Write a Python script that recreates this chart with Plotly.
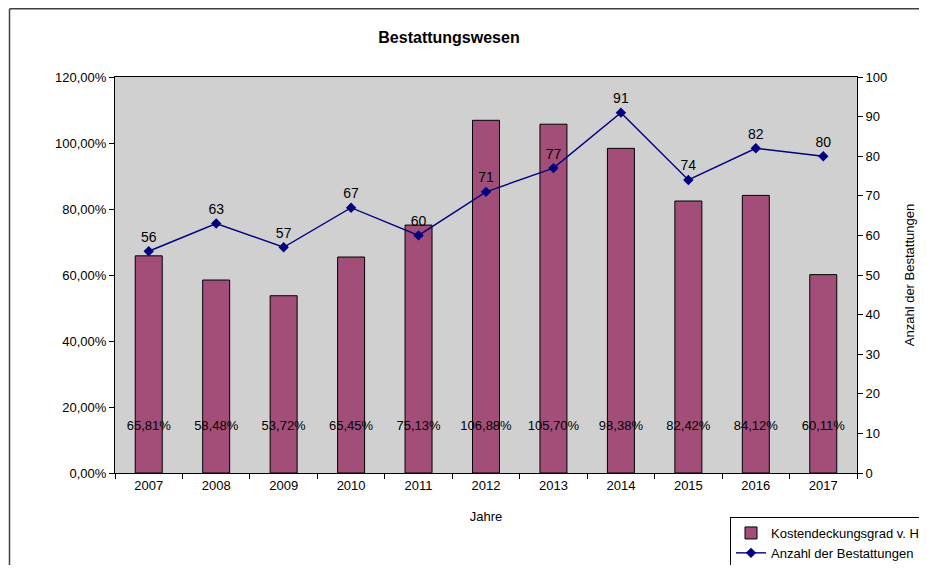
import plotly.graph_objects as go

years = ["2007", "2008", "2009", "2010", "2011", "2012", "2013", "2014", "2015", "2016", "2017"]
kostendeckung = [0.6581, 0.5848, 0.5372, 0.6545, 0.7513, 1.0688, 1.0570, 0.9838, 0.8242, 0.8412, 0.6011]
bestattungen = [56, 63, 57, 67, 60, 71, 77, 91, 74, 82, 80]

FONT = "Liberation Sans, Arial, sans-serif"
OFF = 8  # page body margin
W, H = 927 - 2 * OFF, 573 - 2 * OFF
L, R, T, B = 115 - OFF, 857 - OFF, 77 - OFF, 473 - OFF

def px_x(p):
    return (p - OFF - L) / (R - L)

def px_y(p):
    return (B - (p - OFF)) / (B - T)

fig = go.Figure()

fig.add_trace(go.Bar(
    x=years, y=kostendeckung, name="Kostendeckungsgrad v. H.",
    marker=dict(color="#A34E78", line=dict(color="#000000", width=1)),
    width=0.4, yaxis="y",
))

# bar value labels near the bottom
fig.add_trace(go.Scatter(
    x=years, y=[0.14] * len(years), mode="text",
    text=[f"{v*100:.2f}%".replace(".", ",") for v in kostendeckung],
    textfont=dict(family=FONT, size=13, color="#000000"),
    showlegend=False, hoverinfo="skip", yaxis="y",
))

fig.add_trace(go.Scatter(
    x=years, y=bestattungen, name="Anzahl der Bestattungen",
    mode="lines+markers+text",
    line=dict(color="#000080", width=1.4),
    marker=dict(symbol="diamond", size=8, color="#000080"),
    text=[str(v) for v in bestattungen], textposition="top center",
    textfont=dict(family=FONT, size=14, color="#000000"),
    yaxis="y2",
))

frame_line = dict(color="#404040", width=1.5)

fig.update_layout(
    width=W, height=H,
    separators=",.",
    paper_bgcolor="#FFFFFF", plot_bgcolor="#D0D0D0",
    font=dict(family=FONT, size=13, color="#000000"),
    margin=dict(l=L, r=W - R, t=T, b=H - B, autoexpand=False),
    title=dict(text="<b>Bestattungswesen</b>", x=(449 - OFF) / W, xanchor="center",
               y=1 - (37 - OFF) / H, yanchor="middle",
               font=dict(family=FONT, size=16, color="#000000")),
    bargap=0.6,
    xaxis=dict(
        type="category", showline=True, linecolor="#000000", linewidth=1, mirror=True,
        ticks="outside", ticklen=5, tickcolor="#000000", tickson="boundaries",
        title=dict(text="Jahre", standoff=20, font=dict(size=13)),
        showgrid=False, range=[-0.5, 10.5],
    ),
    yaxis=dict(
        range=[0, 1.2], dtick=0.2, tickformat=".2%", showgrid=False,
        showline=True, linecolor="#000000", linewidth=1,
        ticks="outside", ticklen=5, tickcolor="#000000", zeroline=False,
    ),
    yaxis2=dict(
        overlaying="y", side="right", range=[0, 100], dtick=10, showgrid=False,
        showline=True, linecolor="#000000", linewidth=1,
        ticks="outside", ticklen=5, tickcolor="#000000", zeroline=False,
        title=dict(text="Anzahl der Bestattungen", standoff=18, font=dict(size=13)),
    ),
    legend=dict(
        x=px_x(730), y=px_y(517), xanchor="left", yanchor="top",
        bgcolor="#FFFFFF", bordercolor="#000000", borderwidth=1,
        font=dict(family=FONT, size=13), tracegroupgap=0, itemwidth=30,
    ),
    shapes=[
        dict(type="line", xref="paper", yref="paper",
             x0=px_x(9.5), x1=px_x(940), y0=px_y(8.75), y1=px_y(8.75),
             line=frame_line, layer="below"),
        dict(type="line", xref="paper", yref="paper",
             x0=px_x(9.5), x1=px_x(9.5), y0=px_y(8.75), y1=px_y(600),
             line=frame_line, layer="below"),
    ],
)

fig.write_html("out.html")
